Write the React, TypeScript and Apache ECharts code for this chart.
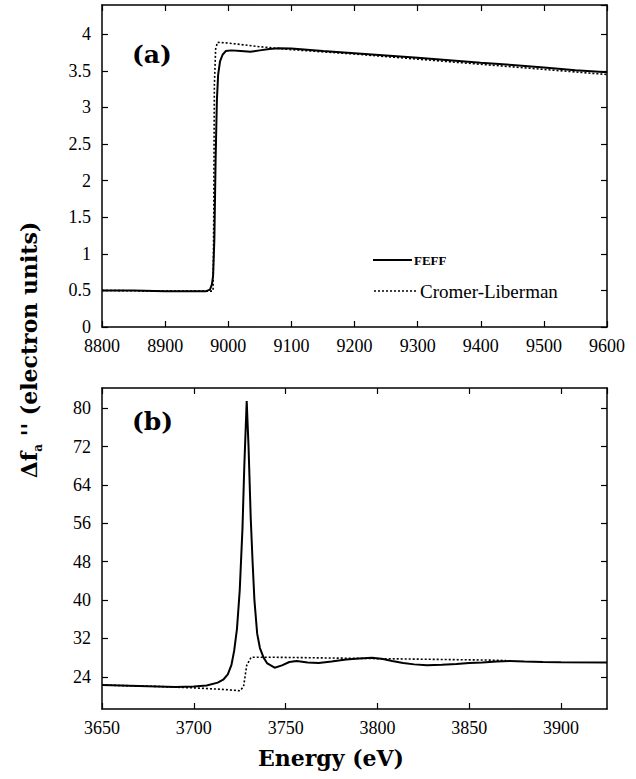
import React, { useEffect, useRef } from 'react';
import * as echarts from 'echarts';

// Panel (a): Cu K-edge region
const energyA_FEFF = [8800, 8850, 8900, 8940, 8965, 8971, 8974, 8976, 8978, 8980, 8982, 8984, 8987, 8991, 8996, 9005, 9020, 9035, 9050, 9065, 9080, 9100, 9150, 9200, 9250, 9300, 9350, 9400, 9450, 9500, 9550, 9600];
const fA_FEFF = [0.5, 0.5, 0.49, 0.49, 0.49, 0.51, 0.58, 0.7, 1.2, 2.3, 3.1, 3.45, 3.63, 3.72, 3.77, 3.78, 3.77, 3.76, 3.78, 3.8, 3.81, 3.805, 3.77, 3.74, 3.71, 3.68, 3.645, 3.61, 3.58, 3.545, 3.51, 3.48];
const energyA_CL = [8800, 8900, 8975, 8976, 8977, 8978, 8980, 8983, 9000, 9050, 9100, 9200, 9300, 9400, 9500, 9600];
const fA_CL = [0.5, 0.49, 0.49, 0.5, 1.5, 3.3, 3.8, 3.89, 3.88, 3.83, 3.79, 3.73, 3.66, 3.59, 3.52, 3.45];

// Panel (b): M4-edge region
const energyB_FEFF = [3650, 3670, 3690, 3700, 3707, 3713, 3716, 3718.5, 3720.5, 3722, 3723.5, 3725, 3726.5, 3727.5, 3728.8, 3729.8, 3731, 3732, 3733, 3734.5, 3736, 3738, 3740, 3744, 3748, 3752, 3756, 3762, 3768, 3775, 3783, 3790, 3797, 3803, 3808, 3814, 3820, 3827, 3835, 3843, 3850, 3857, 3865, 3872, 3880, 3890, 3900, 3925];
const fB_FEFF = [22.3, 22.1, 21.9, 22.0, 22.2, 22.8, 23.4, 24.5, 26.5, 29.5, 34, 42, 55, 68, 81.5, 72, 57, 48, 40, 33, 30, 28, 26.8, 25.9, 26.4, 27.1, 27.3, 27.0, 26.9, 27.2, 27.6, 27.8, 28.0, 27.7, 27.3, 26.9, 26.6, 26.4, 26.5, 26.7, 26.9, 27.0, 27.2, 27.3, 27.2, 27.1, 27.05, 27.0];
const energyB_CL = [3650, 3680, 3700, 3715, 3722, 3725.2, 3727.1, 3728.8, 3731.2, 3740, 3760, 3780, 3800, 3820, 3840, 3860, 3870];
const fB_CL = [22.3, 22.0, 21.7, 21.4, 21.2, 21.1, 22.0, 26.4, 28.1, 28.1, 28.0, 27.9, 27.8, 27.7, 27.6, 27.5, 27.4];

const yTicksB = [24, 32, 40, 48, 56, 64, 72, 80];
const seriesNames = ['FEFF', 'Cromer-Liberman'];

const zip = (xs: number[], ys: number[]) => xs.map((x, i) => [x, ys[i]]);

const SERIF = "Liberation Serif";
const TITLE_FONT = "DejaVu Serif";
const TICK_SIZE = 18;

const axisLineStyle = { color: '#000', width: 1.5 };
const tickStyle = { color: '#000', width: 1.2 };
const fmt = (v: number) => '{t|' + String(v) + '}';
const tickRich = { t: { fontFamily: SERIF, fontSize: TICK_SIZE, color: '#000' } };

function mkX(grid: number, min: number, max: number, interval: number, pos: 'bottom' | 'top', showLabel: boolean) {
  return {
    type: 'value',
    gridIndex: grid,
    min,
    max,
    interval,
    position: pos,
    axisLine: { show: true, onZero: false, lineStyle: axisLineStyle },
    axisTick: { show: true, inside: true, length: 6, lineStyle: tickStyle },
    axisLabel: {
      show: showLabel,
      color: '#000',
      fontFamily: SERIF,
      fontSize: TICK_SIZE,
      margin: 10,
      formatter: fmt,
      rich: tickRich,
      showMaxLabel: grid === 1 ? false : true,
    },
    splitLine: { show: false },
  };
}

export default function App() {
  const ref = useRef<HTMLDivElement>(null);
  useEffect(() => {
    const chart = echarts.init(ref.current!, null, { renderer: 'svg' });
    const yA = (pos: 'left' | 'right', show: boolean) => ({
      type: 'value',
      gridIndex: 0,
      min: 0,
      max: 4.4,
      interval: 0.5,
      position: pos,
      axisLine: { show: true, onZero: false, lineStyle: axisLineStyle },
      axisTick: { show: true, inside: true, length: 6, lineStyle: tickStyle },
      axisLabel: { show, color: '#000', fontFamily: SERIF, fontSize: TICK_SIZE, margin: 11, showMaxLabel: false, formatter: fmt, rich: tickRich },
      splitLine: { show: false },
    });
    const yB = (pos: 'left' | 'right', show: boolean) => ({
      type: 'value',
      gridIndex: 1,
      min: 17.3,
      max: 84.2,
      position: pos,
      axisLine: { show: true, onZero: false, lineStyle: axisLineStyle },
      axisTick: { show: true, inside: true, length: 6, lineStyle: tickStyle, customValues: yTicksB },
      axisLabel: { show, color: '#000', fontFamily: SERIF, fontSize: TICK_SIZE, margin: 11, customValues: yTicksB, formatter: fmt, rich: tickRich },
      splitLine: { show: false },
    });
    const solid = { color: '#000', width: 2 };
    const dotted = { color: '#000', width: 1.6, type: [2, 2] };
    const option = {
      animation: false,
      backgroundColor: '#fff',
      textStyle: { fontFamily: SERIF, color: '#000' },
      grid: [
        { left: 102, top: 5, width: 505, height: 322 },
        { left: 102, top: 388, width: 505, height: 321 },
      ],
      xAxis: [
        mkX(0, 8800, 9600, 100, 'bottom', true),
        mkX(0, 8800, 9600, 100, 'top', false),
        mkX(1, 3650, 3925, 50, 'bottom', true),
        mkX(1, 3650, 3925, 50, 'top', false),
      ],
      yAxis: [yA('left', true), yA('right', false), yB('left', true), yB('right', false)],
      series: [
        { name: seriesNames[1], type: 'line', xAxisIndex: 0, yAxisIndex: 0, data: zip(energyA_CL, fA_CL), symbol: 'none', lineStyle: dotted, itemStyle: { color: '#000' } },
        { name: seriesNames[0], type: 'line', xAxisIndex: 0, yAxisIndex: 0, data: zip(energyA_FEFF, fA_FEFF), symbol: 'none', lineStyle: solid, itemStyle: { color: '#000' } },
        { name: seriesNames[1], type: 'line', xAxisIndex: 2, yAxisIndex: 2, data: zip(energyB_CL, fB_CL), symbol: 'none', lineStyle: dotted, itemStyle: { color: '#000' } },
        { name: seriesNames[0], type: 'line', xAxisIndex: 2, yAxisIndex: 2, data: zip(energyB_FEFF, fB_FEFF), symbol: 'none', lineStyle: solid, itemStyle: { color: '#000' } },
      ],
      graphic: [
        // legend
        { type: 'line', shape: { x1: 373, y1: 260, x2: 412, y2: 260 }, style: { stroke: '#000', lineWidth: 2 } },
        { type: 'text', x: 414, y: 260, style: { text: seriesNames[0], fontFamily: SERIF, fontWeight: 'bold', fontSize: 13, fill: '#000', verticalAlign: 'middle' } },
        { type: 'line', shape: { x1: 374, y1: 291, x2: 417, y2: 291 }, style: { stroke: '#000', lineWidth: 1.6, lineDash: [2, 2] } },
        { type: 'text', x: 420, y: 291, style: { text: seriesNames[1], fontFamily: SERIF, fontSize: 19, fill: '#000', verticalAlign: 'middle' } },
        // panel labels
        { type: 'text', x: 132, y: 54, style: { text: '(a)', fontFamily: TITLE_FONT, fontWeight: 'bold', fontSize: 25, fill: '#000', verticalAlign: 'middle' } },
        { type: 'text', x: 132, y: 421, style: { text: '(b)', fontFamily: TITLE_FONT, fontWeight: 'bold', fontSize: 25, fill: '#000', verticalAlign: 'middle' } },
        {
          type: 'text',
          x: 331,
          y: 758,
          style: { text: 'Energy (eV)', fontFamily: TITLE_FONT, fontWeight: 'bold', fontSize: 22, fill: '#000', align: 'center', verticalAlign: 'middle' },
        },
        {
          type: 'text',
          x: 29,
          y: 350,
          rotation: Math.PI / 2,
          style: {
            text: "{m|Δf}{s|a}{m| '' (electron units)}",
            align: 'center',
            verticalAlign: 'middle',
            fill: '#000',
            rich: {
              m: { fontFamily: TITLE_FONT, fontWeight: 'bold', fontSize: 22, lineHeight: 30, fill: '#000', verticalAlign: 'middle' },
              s: { fontFamily: TITLE_FONT, fontWeight: 'bold', fontSize: 12, lineHeight: 30, fill: '#000', verticalAlign: 'bottom' },
            },
          },
        },
      ],
    };
    chart.setOption(option as any);
    return () => chart.dispose();
  }, []);
  return (
    <div
      ref={ref}
      style={{ position: 'fixed', left: 0, top: 0, width: 636, height: 779, background: '#fff' }}
    />
  );
}
